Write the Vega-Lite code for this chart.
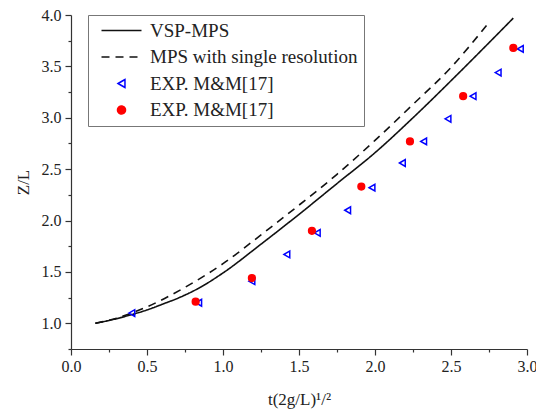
{
  "$schema": "https://vega.github.io/schema/vega-lite/v6.json",
  "width": 456,
  "height": 334,
  "autosize": {"type": "none"},
  "padding": {"left": 71, "top": 15, "right": 9, "bottom": 65},
  "background": "white",
  "config": {
    "font": "Liberation Serif",
    "view": {"stroke": null},
    "axis": {
      "grid": false,
      "domainColor": "#333",
      "domainWidth": 1.2,
      "tickColor": "#333",
      "tickWidth": 1.2,
      "labelFont": "Liberation Serif",
      "labelFontSize": 16,
      "labelColor": "#222",
      "labelFlush": false,
      "labelOverlap": false,
      "titleFont": "Liberation Serif",
      "titleFontSize": 17,
      "titleFontWeight": "normal",
      "titleColor": "#222"
    },
    "legend": {
      "labelFont": "Liberation Serif",
      "labelFontSize": 19,
      "labelColor": "#222"
    }
  },
  "datasets": {
    "curves": [
      {"series": "VSP-MPS", "t": 0.16, "z": 1.00},
      {"series": "VSP-MPS", "t": 0.30, "z": 1.045},
      {"series": "VSP-MPS", "t": 0.40, "z": 1.085},
      {"series": "VSP-MPS", "t": 0.50, "z": 1.13},
      {"series": "VSP-MPS", "t": 0.60, "z": 1.185},
      {"series": "VSP-MPS", "t": 0.72, "z": 1.255},
      {"series": "VSP-MPS", "t": 0.85, "z": 1.35},
      {"series": "VSP-MPS", "t": 1.00, "z": 1.49},
      {"series": "VSP-MPS", "t": 1.25, "z": 1.77},
      {"series": "VSP-MPS", "t": 1.50, "z": 2.06},
      {"series": "VSP-MPS", "t": 1.75, "z": 2.36},
      {"series": "VSP-MPS", "t": 2.00, "z": 2.66},
      {"series": "VSP-MPS", "t": 2.25, "z": 3.00},
      {"series": "VSP-MPS", "t": 2.50, "z": 3.36},
      {"series": "VSP-MPS", "t": 2.75, "z": 3.73},
      {"series": "VSP-MPS", "t": 2.91, "z": 3.97},
      {"series": "MPS with single resolution", "t": 0.16, "z": 1.00},
      {"series": "MPS with single resolution", "t": 0.30, "z": 1.05},
      {"series": "MPS with single resolution", "t": 0.50, "z": 1.16},
      {"series": "MPS with single resolution", "t": 0.75, "z": 1.35},
      {"series": "MPS with single resolution", "t": 1.00, "z": 1.58},
      {"series": "MPS with single resolution", "t": 1.25, "z": 1.86},
      {"series": "MPS with single resolution", "t": 1.50, "z": 2.15},
      {"series": "MPS with single resolution", "t": 1.75, "z": 2.45},
      {"series": "MPS with single resolution", "t": 2.00, "z": 2.78},
      {"series": "MPS with single resolution", "t": 2.25, "z": 3.13},
      {"series": "MPS with single resolution", "t": 2.50, "z": 3.49},
      {"series": "MPS with single resolution", "t": 2.74, "z": 3.91}
    ],
    "exp": [
      {"series": "EXP1", "t": 0.40, "z": 1.10},
      {"series": "EXP1", "t": 0.84, "z": 1.20},
      {"series": "EXP1", "t": 1.19, "z": 1.41},
      {"series": "EXP1", "t": 1.42, "z": 1.67},
      {"series": "EXP1", "t": 1.62, "z": 1.88},
      {"series": "EXP1", "t": 1.82, "z": 2.10},
      {"series": "EXP1", "t": 1.98, "z": 2.32},
      {"series": "EXP1", "t": 2.18, "z": 2.56},
      {"series": "EXP1", "t": 2.32, "z": 2.77},
      {"series": "EXP1", "t": 2.48, "z": 2.99},
      {"series": "EXP1", "t": 2.645, "z": 3.21},
      {"series": "EXP1", "t": 2.81, "z": 3.44},
      {"series": "EXP1", "t": 2.956, "z": 3.67},
      {"series": "EXP2", "t": 0.82, "z": 1.21},
      {"series": "EXP2", "t": 1.19, "z": 1.44},
      {"series": "EXP2", "t": 1.585, "z": 1.90},
      {"series": "EXP2", "t": 1.91, "z": 2.33},
      {"series": "EXP2", "t": 2.23, "z": 2.77},
      {"series": "EXP2", "t": 2.58, "z": 3.21},
      {"series": "EXP2", "t": 2.91, "z": 3.68}
    ]
  },
  "encoding": {
    "x": {
      "field": "t",
      "type": "quantitative",
      "scale": {"domain": [0, 3], "nice": false, "zero": false},
      "axis": {
        "values": [0, 0.25, 0.5, 0.75, 1, 1.25, 1.5, 1.75, 2, 2.25, 2.5, 2.75, 3],
        "labelExpr": "datum.value * 2 === round(datum.value * 2) ? format(datum.value, '.1f') : ''",
        "tickSize": {"condition": {"test": "datum.value * 2 !== round(datum.value * 2)", "value": 3}, "value": 6},
        "labelPadding": 3,
        "title": "t(2g/L)¹/²",
        "titlePadding": 17
      }
    },
    "y": {
      "field": "z",
      "type": "quantitative",
      "scale": {"domain": [0.75, 4], "nice": false, "zero": false},
      "axis": {
        "values": [0.75, 1, 1.25, 1.5, 1.75, 2, 2.25, 2.5, 2.75, 3, 3.25, 3.5, 3.75, 4],
        "labelExpr": "datum.value * 2 === round(datum.value * 2) ? format(datum.value, '.1f') : ''",
        "tickSize": {"condition": {"test": "datum.value * 2 !== round(datum.value * 2)", "value": 3}, "value": 6},
        "labelPadding": 4,
        "title": "Z/L",
        "titlePadding": 9
      }
    }
  },
  "layer": [
    {
      "data": {"name": "curves"},
      "mark": {"type": "line", "interpolate": "monotone", "strokeWidth": 1.6, "clip": true},
      "encoding": {
        "stroke": {
          "field": "series",
          "type": "nominal",
          "scale": {
            "domain": ["VSP-MPS", "MPS with single resolution", "EXP1", "EXP2"],
            "range": ["#111111", "#111111", "#0000ff", "#ff0000"]
          },
          "legend": {
            "title": null,
            "orient": "none",
            "legendX": 17,
            "legendY": 0,
            "padding": 6,
            "strokeColor": "#777777",
            "fillColor": "white",
            "symbolSize": 64,
            "symbolStrokeWidth": 1.5,
            "symbolOffset": 18,
            "labelOffset": 19,
            "rowPadding": 6.5,
            "labelLimit": 400,
            "labelExpr": "indexof(datum.label, 'EXP') === 0 ? 'EXP. M&M[17]' : datum.label"
          }
        },
        "strokeDash": {
          "field": "series",
          "type": "nominal",
          "scale": {
            "domain": ["VSP-MPS", "MPS with single resolution", "EXP1", "EXP2"],
            "range": [[1, 0], [8, 6], [1, 0], [1, 0]]
          }
        }
      }
    },
    {
      "data": {"name": "exp"},
      "mark": {"type": "point", "filled": true, "strokeWidth": 1.5, "size": 45, "opacity": 1},
      "encoding": {
        "stroke": {"field": "series", "type": "nominal"},
        "fill": {
          "field": "series",
          "type": "nominal",
          "scale": {
            "domain": ["VSP-MPS", "MPS with single resolution", "EXP1", "EXP2"],
            "range": ["transparent", "transparent", "transparent", "#ff0000"]
          }
        },
        "shape": {
          "field": "series",
          "type": "nominal",
          "scale": {
            "domain": ["VSP-MPS", "MPS with single resolution", "EXP1", "EXP2"],
            "range": ["M-5,0H5", "M-5,0H5", "triangle-left", "circle"]
          }
        }
      }
    }
  ]
}
